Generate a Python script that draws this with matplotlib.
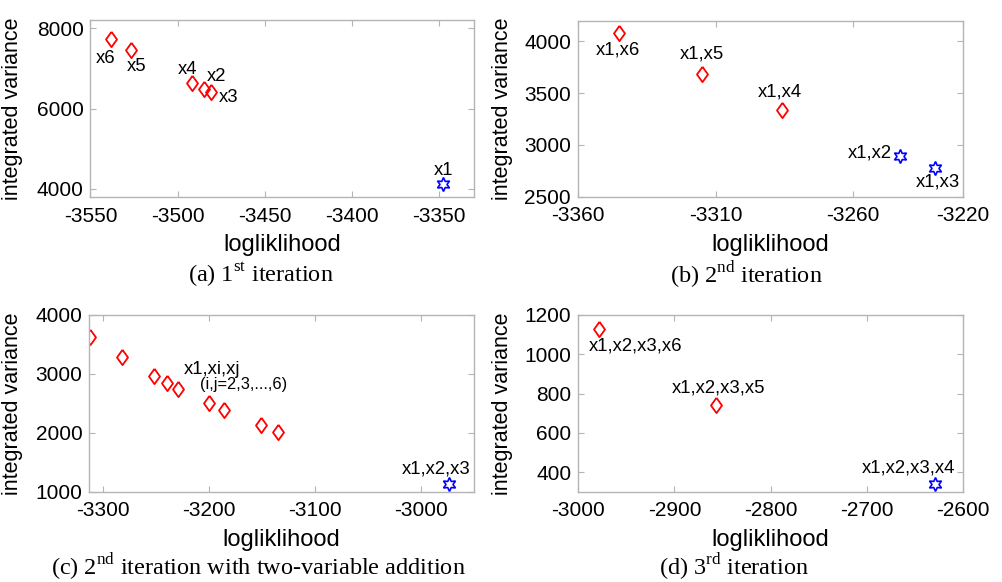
import matplotlib
matplotlib.use("Agg")
import matplotlib.pyplot as plt

plt.rcParams["font.family"] = ["Liberation Sans", "DejaVu Sans"]
plt.rcParams["mathtext.fontset"] = "custom"
plt.rcParams["mathtext.rm"] = "Liberation Serif"
plt.rcParams["axes.unicode_minus"] = False

# (a) 1st iteration
a_x = [-3538, -3527, -3492, -3485, -3481]
a_y = [7730, 7460, 6635, 6485, 6400]
a_labels = ["x6", "x5", "x4", "x2", "x3"]
a_best_x = [-3348]
a_best_y = [4115]
a_best_labels = ["x1"]

# (b) 2nd iteration
b_x = [-3345, -3315, -3286]
b_y = [4080, 3688, 3340]
b_labels = ["x1,x6", "x1,x5", "x1,x4"]
b_best_x = [-3243, -3230]
b_best_y = [2897, 2774]
b_best_labels = ["x1,x2", "x1,x3"]

# (c) 2nd iteration with two-variable addition
c_x = [-3312, -3282, -3252, -3239, -3229, -3200, -3186, -3151, -3135]
c_y = [3632, 3292, 2964, 2840, 2744, 2501, 2387, 2127, 2008]
c_best_x = [-2974]
c_best_y = [1125]
c_best_labels = ["x1,x2,x3"]

# (d) 3rd iteration
d_x = [-2978, -2857]
d_y = [1127, 740]
d_labels = ["x1,x2,x3,x6", "x1,x2,x3,x5"]
d_best_x = [-2629]
d_best_y = [341]
d_best_labels = ["x1,x2,x3,x4"]

DIAMOND = [(0, 1), (0.72, 0), (0, -1), (-0.72, 0), (0, 1)]
STAR = (6, 1, 0)
GRID = "#b4b4b4"
LBL = 13.3

fig = plt.figure(figsize=(10.03, 5.82), dpi=100)


def style(ax, xlim, ylim, xticks, yticks):
    ax.set_xlim(*xlim)
    ax.set_ylim(*ylim)
    ax.set_xticks(xticks)
    ax.set_yticks(yticks)
    ax.tick_params(direction="in", length=4, width=0.8, color=GRID,
                   labelsize=15, top=True, right=True, pad=5)
    ax.tick_params(axis="x", pad=7)
    for s in ax.spines.values():
        s.set_edgecolor(GRID)
        s.set_linewidth(1.0)
    ax.set_xlabel("logliklihood", fontsize=17)
    ax.set_ylabel("integrated variance", fontsize=15.5)
    ax.xaxis.set_label_coords(0.5, -0.21)


def points(ax, xs, ys, best_x, best_y):
    ax.plot(xs, ys, linestyle="none", marker=DIAMOND, markersize=11,
            markerfacecolor="none", markeredgecolor="red", markeredgewidth=1.3)
    ax.plot(best_x, best_y, linestyle="none", marker=STAR, markersize=10,
            markerfacecolor="none", markeredgecolor="blue", markeredgewidth=1.2)


def labels(ax, xs, ys, texts, offsets, ha="center"):
    for x, y, t, (dx, dy) in zip(xs, ys, texts, offsets):
        ax.annotate(t, (x, y), textcoords="offset points", xytext=(dx, dy),
                    ha=ha, va="center", fontsize=LBL)


def caption(x, y, text):
    fig.text(x, y, text, ha="center", va="center", fontsize=17.5,
             family="Liberation Serif")


# (a)
ax = fig.add_axes([0.0902, 0.6615, 0.3824, 0.3041])
style(ax, (-3550, -3330), (3800, 8200),
      [-3550, -3500, -3450, -3400, -3350], [4000, 6000, 8000])
ax.yaxis.set_label_coords(-0.177, 0.5)
points(ax, a_x, a_y, a_best_x, a_best_y)
labels(ax, a_x, a_y, a_labels,
       [(-4, -14), (4, -12), (-3, 10), (9, 9), (13, -4)])
labels(ax, a_best_x, a_best_y, a_best_labels, [(1, 10)])
caption(0.26, 1 - 275 / 582, r"(a) 1$^{\rm st}$ iteration")

# (b)
ax = fig.add_axes([0.5763, 0.662, 0.3838, 0.3024])
style(ax, (-3360, -3220), (2500, 4200),
      [-3360, -3310, -3260, -3220], [2500, 3000, 3500, 4000])
ax.yaxis.set_label_coords(-0.169, 0.5)
points(ax, b_x, b_y, b_best_x, b_best_y)
labels(ax, b_x, b_y, b_labels, [(-1, -12), (0, 14), (-1, 13)])
labels(ax, b_best_x[:1], b_best_y[:1], b_best_labels[:1], [(-6, 2)], ha="right")
labels(ax, b_best_x[1:], b_best_y[1:], b_best_labels[1:], [(2, -10)])
caption(0.744, 1 - 275 / 582, r"(b) 2$^{\rm nd}$ iteration")

# (c)
ax = fig.add_axes([0.089, 0.1552, 0.3836, 0.3036])
style(ax, (-3312.6, -2950), (1000, 4000),
      [-3300, -3200, -3100, -3000], [1000, 2000, 3000, 4000])
ax.yaxis.set_label_coords(-0.172, 0.5)
points(ax, c_x, c_y, c_best_x, c_best_y)
ax.text(0.318, 0.694, "x1,xi,xj", transform=ax.transAxes, ha="center",
        va="center", fontsize=LBL)
ax.text(0.40, 0.604, "(i,j=2,3,...,6)", transform=ax.transAxes, ha="center",
        va="center", fontsize=11.8)
labels(ax, c_best_x, c_best_y, c_best_labels, [(-9, 11)])
caption(0.258, 1 - 567 / 582,
        r"(c) 2$^{\rm nd}$ iteration with two-variable addition")

# (d)
ax = fig.add_axes([0.5766, 0.1552, 0.3833, 0.3036])
style(ax, (-3000, -2600), (300, 1200),
      [-3000, -2900, -2800, -2700, -2600], [400, 600, 800, 1000, 1200])
ax.yaxis.set_label_coords(-0.169, 0.5)
points(ax, d_x, d_y, d_best_x, d_best_y)
labels(ax, d_x, d_y, d_labels, [(26, -12), (2, 12.5)])
labels(ax, d_best_x, d_best_y, d_best_labels, [(-19, 11)])
caption(0.732, 1 - 567 / 582, r"(d) 3$^{\rm rd}$ iteration")

fig.savefig("out.png", dpi=100)
